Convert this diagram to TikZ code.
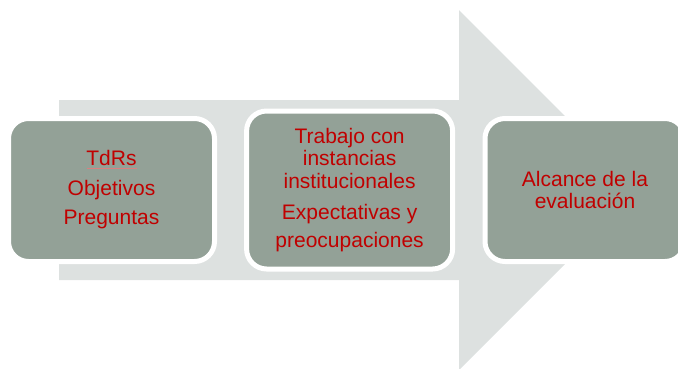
\documentclass[tikz,border=0pt]{standalone}
\usepackage{fontspec}
\setmainfont{Liberation Sans}
\definecolor{arrowgray}{HTML}{DDE1E0}
\definecolor{boxfill}{HTML}{93A197}
\definecolor{txtred}{HTML}{C00000}
\definecolor{ulred}{HTML}{D88080}
\begin{document}
\begin{tikzpicture}[x=1pt,y=-1pt,
  stagebox/.style={draw=white, line width=5pt, fill=boxfill, rounded corners=20pt,
    text=txtred, align=center, inner sep=0pt,
    font=\fontsize{21}{22.5}\selectfont},
]
\useasboundingbox (0,0) rectangle (678,368);
% big background arrow
\fill[arrowgray] (59,100) -- (459,100) -- (459,10) -- (639,190) -- (459,370) -- (459,280) -- (59,280) -- cycle;
% stages
\node[stagebox, minimum width=206pt, minimum height=143pt] (s1) at (111.5,190)
  {TdRs\\[7pt]Objetivos\\[7pt]Preguntas};
\node[stagebox, minimum width=206pt, minimum height=158pt] (s2) at (349.6,190)
  {Trabajo con\\instancias\\institucionales\\[8.5pt]Expectativas y\\[6pt]preocupaciones};
\node[stagebox, minimum width=200pt, minimum height=143pt] (s3) at (585,190)
  {Alcance de la\\evaluación};
% spell-check underline under TdRs
\coordinate (ulA) at (86.5,168);
\coordinate (ulB) at (136.5,168);
\draw[ulred, line width=0.8pt] (ulA) -- (ulB);
\end{tikzpicture}
\end{document}
